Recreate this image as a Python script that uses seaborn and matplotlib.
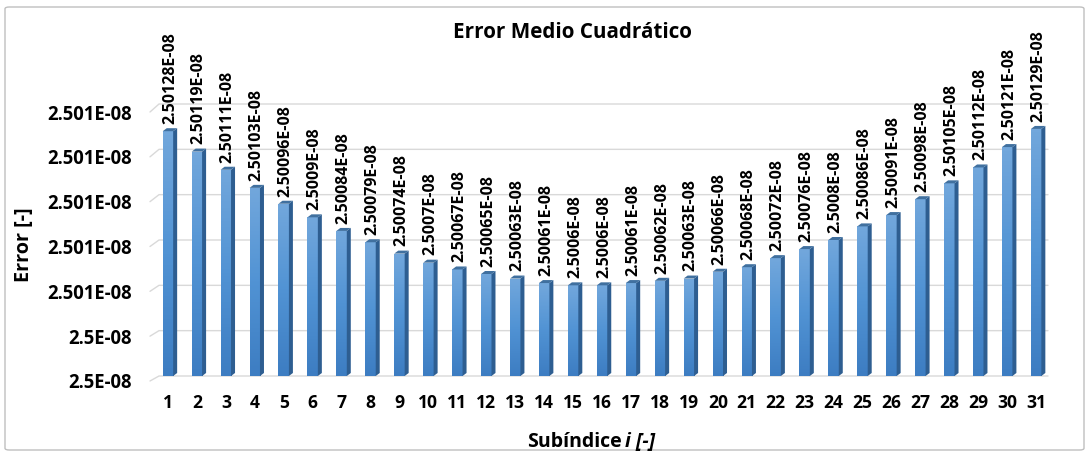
import numpy as np
import pandas as pd
import seaborn as sns
import matplotlib
matplotlib.use("Agg")
import matplotlib.pyplot as plt
from matplotlib.patches import Polygon, FancyBboxPatch
from matplotlib.colors import LinearSegmentedColormap
from matplotlib.transforms import ScaledTranslation

# Mean squared error per sub-index i
subindices = list(range(1, 32))
errors = [
    2.50128e-8, 2.50119e-8, 2.50111e-8, 2.50103e-8, 2.50096e-8, 2.50090e-8,
    2.50084e-8, 2.50079e-8, 2.50074e-8, 2.50070e-8, 2.50067e-8, 2.50065e-8,
    2.50063e-8, 2.50061e-8, 2.50060e-8, 2.50060e-8, 2.50061e-8, 2.50062e-8,
    2.50063e-8, 2.50066e-8, 2.50068e-8, 2.50072e-8, 2.50076e-8, 2.50080e-8,
    2.50086e-8, 2.50091e-8, 2.50098e-8, 2.50105e-8, 2.50112e-8, 2.50121e-8,
    2.50129e-8,
]
y_ticks = [2.5002e-8, 2.5004e-8, 2.5006e-8, 2.5008e-8, 2.5010e-8, 2.5012e-8, 2.5014e-8]

title = "Error Medio Cuadrático"
y_label = "Error [-]"
x_label_main = "Subíndice"
x_label_var = "i [-]"

df = pd.DataFrame({"i": [str(s) for s in subindices], "error": errors})


def excel_label(v, decimals):
    mant = f"{v / 1e-8:.{decimals}f}".rstrip("0").rstrip(".")
    return f"{mant}E-08"


sns.set_theme(style="white")
FONT = ["Open Sans", "DejaVu Sans"]
plt.rcParams["font.family"] = FONT
plt.rcParams["font.weight"] = "bold"
plt.rcParams["text.color"] = "black"

W, H = 1089, 454
fig = plt.figure(figsize=(W / 100, H / 100), dpi=100)
renderer = fig.canvas.get_renderer()


def size_for(sample, target_px, **kw):
    """Font size (pt) giving `sample` a width of target_px pixels."""
    t = fig.text(0, 0, sample, fontsize=10, fontweight="bold", **kw)
    w = t.get_window_extent(renderer).width
    t.remove()
    return 10 * target_px / w


# plot area (back wall) in pixels
left_px, right_px, top_px, bottom_px = 150, 1048, 104, 376
ax = fig.add_axes([left_px / W, 1 - bottom_px / H,
                   (right_px - left_px) / W, (bottom_px - top_px) / H])

front_w = 0.36
sns.barplot(data=df, x="i", y="error", color="#5B9BD5", width=front_w,
            ax=ax, zorder=3)

xmin, xmax = -0.62, 30.41
ax.set_ylim(y_ticks[0], y_ticks[-1])
ax.set_xlim(xmin, xmax)
for s in ax.spines.values():
    s.set_visible(False)

# pixel -> data conversions
px_x = (xmax - xmin) / (right_px - left_px)
px_y = (y_ticks[-1] - y_ticks[0]) / (bottom_px - top_px)
dx, dy = 4 * px_x, 3 * px_y

# perspective drop of the front edge (px), bottom to top
n_t = len(y_ticks)
front_drop = [5 + 3 * k / (n_t - 1) for k in range(n_t)]

# gridlines with a small wall stub on the left
for t, drop in zip(y_ticks, front_drop):
    ax.plot([xmin, xmin + 9 * px_x, xmax], [t - drop * px_y, t, t],
            color="#D9D9D9", lw=1.0, zorder=1, clip_on=False)

cmap = LinearSegmentedColormap.from_list(
    "bar", ["#3D7DC2", "#5193D4", "#72A7DC"])
grad = np.linspace(0, 1, 64).reshape(-1, 1)

val_size = size_for("2.50128E-08", 92)

for patch, val in zip(ax.patches, errors):
    x0 = patch.get_x()
    w = patch.get_width()
    y0 = y_ticks[0]
    top = val
    # front face gradient
    im = ax.imshow(grad, aspect="auto", cmap=cmap, origin="lower",
                   extent=[x0, x0 + w, y0, top], zorder=3)
    im.set_clip_path(patch)
    patch.set_facecolor("none")
    patch.set_edgecolor("none")
    # right side face
    ax.add_patch(Polygon([[x0 + w, y0], [x0 + w + dx, y0 + dy],
                          [x0 + w + dx, top + dy], [x0 + w, top]],
                         closed=True, facecolor="#2E5E91", edgecolor="none",
                         zorder=4, clip_on=False))
    # top face
    ax.add_patch(Polygon([[x0, top], [x0 + w, top],
                          [x0 + w + dx, top + dy], [x0 + dx, top + dy]],
                         closed=True, facecolor="#40709F", edgecolor="none",
                         zorder=4, clip_on=False))
    # value label
    ax.annotate(excel_label(val, 5), (x0 + w / 2 + dx / 2, top + dy),
                xytext=(0, 3), textcoords="offset points", rotation=90,
                ha="center", va="bottom", fontsize=val_size,
                fontweight="bold", color="black", clip_on=False, zorder=5)

ax.set_xlim(xmin, xmax)

ax.set_yticks(y_ticks)
ax.set_yticklabels([excel_label(t, 3) for t in y_ticks])
ax.tick_params(axis="y", length=0, pad=13,
               labelsize=size_for("2.501E-08", 85))
ax.tick_params(axis="x", length=0, pad=13,
               labelsize=size_for("10", 20))
for lab in ax.get_xticklabels() + ax.get_yticklabels():
    lab.set_fontweight("bold")
    lab.set_color("black")

# y tick labels sit on the front edge of the wall
for tick, drop in zip(ax.yaxis.get_major_ticks(), front_drop):
    tick.label1.set_transform(tick.label1.get_transform() +
                              ScaledTranslation(0, -drop / 100,
                                                fig.dpi_scale_trans))

ax.set_xlabel("")
ax.set_ylabel("")

fig.text(24 / W, 1 - 245 / H, y_label, rotation=90, ha="center",
         va="center", fontsize=size_for(y_label, 75), fontweight="bold")
fig.text(572 / W, 1 - 38 / H, title, ha="center", va="baseline",
         fontsize=size_for(title, 240), fontweight="bold")
xl_size = size_for(x_label_main, 95)
fig.text(622 / W, 1 - 447 / H, x_label_main, ha="right", va="baseline",
         fontsize=xl_size, fontweight="bold")
fig.text(625 / W, 1 - 447 / H, x_label_var, ha="left", va="baseline",
         fontsize=xl_size, fontweight="bold", style="italic")

# chart border
fig.patches.append(FancyBboxPatch((5 / W, 4 / H), 1 - 10 / W, 1 - 11 / H,
                                  boxstyle="round,pad=0,rounding_size=0.004",
                                  transform=fig.transFigure, fill=False,
                                  edgecolor="#BFBFBF", lw=1.0))

fig.savefig("out.png", dpi=100)
